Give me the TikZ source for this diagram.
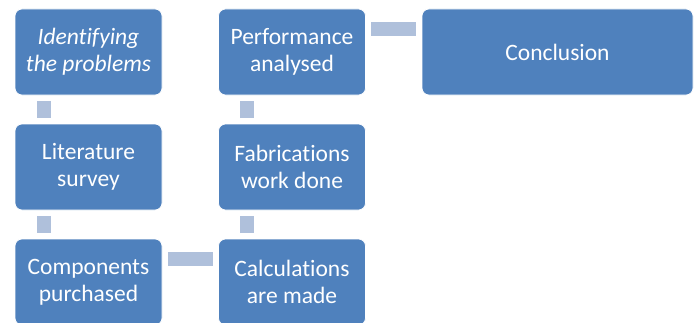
\documentclass[tikz,border=0pt]{standalone}
\usepackage{fontspec}
\setmainfont{Carlito}[Ligatures=NoCommon]
\definecolor{boxblue}{HTML}{4F81BD}
\definecolor{connblue}{HTML}{AFC0DB}
\begin{document}
\begin{tikzpicture}[x=1pt,y=1pt,
  stepbox/.style={draw=white, line width=0.75pt, fill=boxblue, rounded corners=7pt,
    minimum width=147pt, minimum height=86pt, inner sep=0pt, text=white,
    align=center, font=\fontsize{23.5}{27}\selectfont},
  conn/.style={draw=connblue, line width=14pt, shorten <=5.5pt, shorten >=5.5pt}]
\useasboundingbox (0,0) rectangle (698,322);
\node[stepbox] (a) at (88.5,270) {\itshape Identifying\\\itshape the problems};
\node[stepbox] (b) at (88.5,155) {Literature\\survey};
\node[stepbox] (c) at (88.5,40) {Components\\purchased};
\node[stepbox] (d) at (292,40) {Calculations\\are made};
\node[stepbox] (e) at (292,155) {Fabrications\\work done};
\node[stepbox] (f) at (292,270) {Performance\\analysed};
\node[stepbox, minimum width=271pt] (g) at (557.5,270) {Conclusion};
\draw[conn] ([xshift=29pt]a.south west) -- ([xshift=29pt]b.north west);
\draw[conn] ([xshift=29pt]b.south west) -- ([xshift=29pt]c.north west);
\draw[conn] ([yshift=-20pt]c.north east) -- ([yshift=-20pt]d.north west);
\draw[conn] ([xshift=29pt]d.north west) -- ([xshift=29pt]e.south west);
\draw[conn] ([xshift=29pt]e.north west) -- ([xshift=29pt]f.south west);
\draw[conn] ([yshift=-20pt]f.north east) -- ([yshift=-20pt]g.north west);
\end{tikzpicture}
\end{document}
